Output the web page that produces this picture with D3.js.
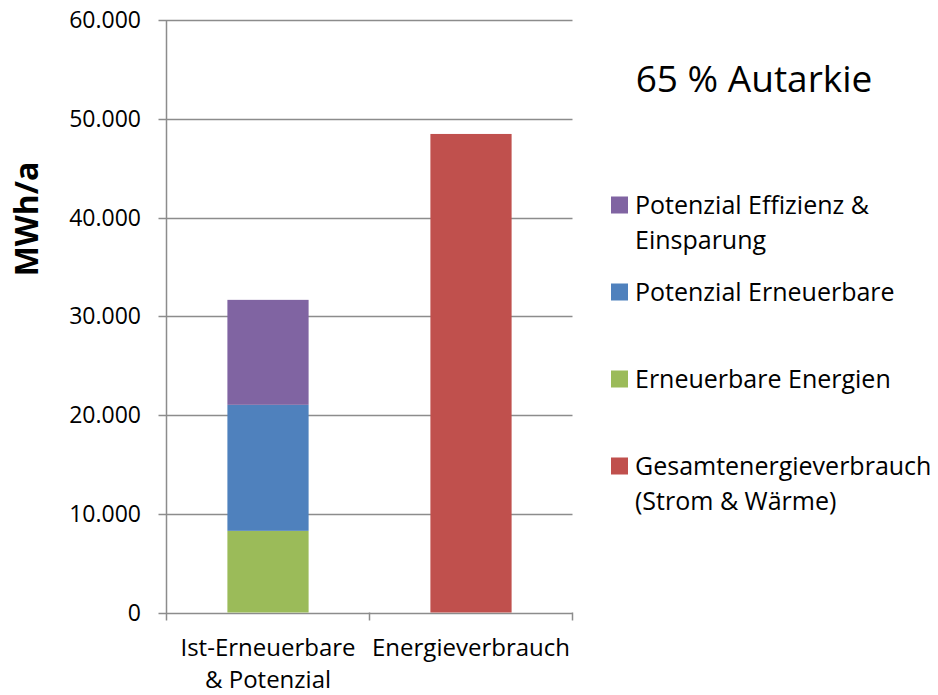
<!DOCTYPE html>
<html>
<head>
<meta charset="utf-8">
<script src="https://cdn.jsdelivr.net/npm/d3@7"></script>
<style>
  body { margin: 0; background: #fff; }
  text { font-family: "Open Sans", sans-serif; fill: #000; }
</style>
</head>
<body>
<div id="chart"></div>
<script>
// categories on the x axis (second line after the pipe)
const categories = ["Ist-Erneuerbare|& Potenzial", "Energieverbrauch"];
// stacked series, bottom to top
const seriesNames = ["Erneuerbare Energien", "Potenzial Erneuerbare", "Potenzial Effizienz & Einsparung", "Gesamtenergieverbrauch (Strom & Wärme)"];
const erneuerbare = [8270, 0];
const potenzialErneuerbare = [12760, 0];
const potenzialEffizienz = [10630, 0];
const gesamtverbrauch = [0, 48460];
const yTicks = [0, 10000, 20000, 30000, 40000, 50000, 60000];
const seriesColors = ["#9BBB59", "#4F81BD", "#8064A2", "#C0504D"];

const width = 938, height = 695;
const margin = {left: 166.5, right: 365.5, top: 20, bottom: 82.5};

const svg = d3.select("#chart").append("svg")
    .attr("width", width)
    .attr("height", height);

const x = d3.scaleBand()
    .domain(categories)
    .range([margin.left, width - margin.right])
    .paddingInner(0.6)
    .paddingOuter(0.3);

const y = d3.scaleLinear()
    .domain([0, 60000])
    .range([height - margin.bottom, margin.top]);

// build the stack table
const table = categories.map((c, i) => ({
    cat: c,
    s0: erneuerbare[i],
    s1: potenzialErneuerbare[i],
    s2: potenzialEffizienz[i],
    s3: gesamtverbrauch[i]
}));
const stack = d3.stack().keys(["s0", "s1", "s2", "s3"])(table);

// gridlines
const fmt = v => d3.format(",")(v).replace(/,/g, ".");
svg.append("g")
    .selectAll("line")
    .data(yTicks)
    .enter().append("line")
    .attr("x1", margin.left - 8)
    .attr("x2", width - margin.right)
    .attr("y1", d => Math.round(y(d)) + 0.5)
    .attr("y2", d => Math.round(y(d)) + 0.5)
    .style("stroke", "#8c8c8c")
    .style("stroke-width", 1.5);

// bars
svg.append("g")
    .selectAll("g")
    .data(stack)
    .enter().append("g")
    .style("fill", (d, i) => seriesColors[i])
    .selectAll("rect")
    .data(d => d)
    .enter().append("rect")
    .attr("x", d => x(d.data.cat))
    .attr("width", x.bandwidth())
    .attr("y", d => y(d[1]))
    .attr("height", d => y(d[0]) - y(d[1]));

// y axis line
svg.append("line")
    .attr("x1", margin.left).attr("x2", margin.left)
    .attr("y1", margin.top).attr("y2", height - margin.bottom + 8)
    .style("stroke", "#8c8c8c").style("stroke-width", 1.5);

// x axis category ticks
const xEdges = [margin.left + (width - margin.left - margin.right) / 2, width - margin.right];
svg.append("g")
    .selectAll("line")
    .data(xEdges)
    .enter().append("line")
    .attr("x1", d => d).attr("x2", d => d)
    .attr("y1", y(0)).attr("y2", y(0) + 8)
    .style("stroke", "#8c8c8c").style("stroke-width", 1.5);

// y tick labels
svg.append("g")
    .selectAll("text")
    .data(yTicks)
    .enter().append("text")
    .attr("x", 141)
    .attr("y", d => y(d))
    .attr("dy", "0.35em")
    .attr("text-anchor", "end")
    .style("font-size", "23px")
    .text(d => fmt(d));

// x labels
svg.append("g")
    .selectAll("text")
    .data(categories)
    .enter().append("text")
    .attr("text-anchor", "middle")
    .style("font-size", "24px")
    .attr("transform", d => `translate(${x(d) + x.bandwidth() / 2},${y(0) + 43})`)
    .each(function(d) {
        d.split("|").forEach((line, i) => {
            d3.select(this).append("tspan")
                .attr("x", 0)
                .attr("dy", i === 0 ? 0 : 32)
                .text(line);
        });
    });

// y axis title
svg.append("text")
    .attr("transform", "translate(38,219) rotate(-90)")
    .attr("text-anchor", "middle")
    .style("font-size", "32px")
    .style("font-weight", "bold")
    .text("MWh/a");

// title
svg.append("text")
    .attr("x", 754).attr("y", 92)
    .attr("text-anchor", "middle")
    .style("font-size", "37px")
    .text("65 % Autarkie");

// legend, top to bottom
const legend = [
    {lines: ["Potenzial Effizienz &", "Einsparung"], color: seriesColors[2], y: 205},
    {lines: ["Potenzial Erneuerbare"], color: seriesColors[1], y: 292},
    {lines: ["Erneuerbare Energien"], color: seriesColors[0], y: 379},
    {lines: ["Gesamtenergieverbrauch", "(Strom & Wärme)"], color: seriesColors[3], y: 466}
];
const lg = svg.append("g").selectAll("g")
    .data(legend)
    .enter().append("g")
    .attr("transform", d => `translate(611,${d.y})`);
lg.append("rect")
    .attr("x", 0).attr("y", -8.5)
    .attr("width", 17).attr("height", 17)
    .style("fill", d => d.color);
lg.append("text")
    .style("font-size", "25px")
    .each(function(d) {
        d.lines.forEach((line, i) => {
            d3.select(this).append("tspan")
                .attr("x", 24)
                .attr("y", i * 35)
                .attr("dy", "0.35em")
                .text(line);
        });
    });
</script>
</body>
</html>
